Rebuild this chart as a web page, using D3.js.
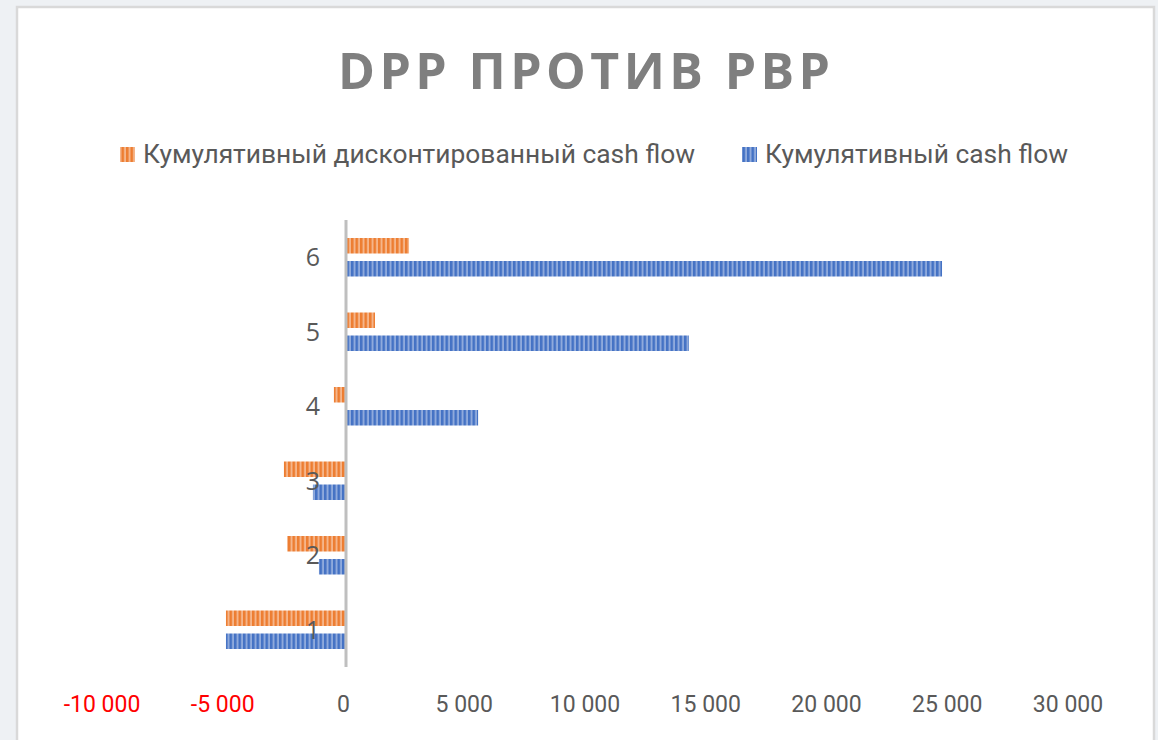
<!DOCTYPE html>
<html>
<head>
<meta charset="utf-8">
<script src="https://cdn.jsdelivr.net/npm/d3@7"></script>
<style>
  body { margin: 0; background: #eef1f4; }
  svg { display: block; }
</style>
</head>
<body>
<script>
// Data
var categories = ["1", "2", "3", "4", "5", "6"];
var seriesNames = ["Кумулятивный дисконтированный cash flow", "Кумулятивный cash flow"];
var discounted = [-4970, -2440, -2570, -500, 1200, 2610];
var cumulative = [-4970, -1120, -1370, 5470, 14200, 24680];
var xTicks = [-10000, -5000, 0, 5000, 10000, 15000, 20000, 25000, 30000];

var W = 1158, H = 740;
var colors = { dark: ["#ed7d31", "#4472c4"], light: ["#f5b58a", "#8faadc"] };

var svg = d3.select("body").append("svg")
    .attr("width", W)
    .attr("height", H);

// outer background and white chart panel
svg.append("rect").attr("width", W).attr("height", H).attr("fill", "#eef1f4");
svg.append("rect")
    .attr("x", 17).attr("y", 7)
    .attr("width", 1137).attr("height", 740)
    .attr("fill", "#fff")
    .attr("stroke", "#d9d9d9")
    .attr("stroke-width", 2.5);

// striped fill patterns (one per series)
var defs = svg.append("defs");
[0, 1].forEach(function (i) {
    var p = defs.append("pattern")
        .attr("id", "stripe" + i)
        .attr("patternUnits", "userSpaceOnUse")
        .attr("width", 4.5).attr("height", 10);
    p.append("rect").attr("width", 4.5).attr("height", 10).attr("fill", colors.light[i]);
    p.append("rect").attr("width", 2.5).attr("height", 10).attr("fill", colors.dark[i]);
});

// scales
var xScale = d3.scaleLinear().domain([-10000, 30000]).range([104.5, 1070.5]);
var yScale = d3.scaleBand().domain(categories.slice().reverse()).range([220, 667]).padding(0);
var inner = d3.scaleBand().domain([0, 1]).range([0, 38.5]).paddingInner(0.326);

var rows = categories.map(function (c, i) {
    return { cat: c, values: [discounted[i], cumulative[i]] };
});

// title
svg.append("text")
    .attr("x", 584).attr("y", 89)
    .attr("text-anchor", "middle")
    .attr("font-family", "'Open Sans', 'Noto Sans', sans-serif")
    .attr("font-weight", "bold")
    .attr("font-size", 50)
    .attr("fill", "#7f7f7f")
    .attr("textLength", 492)
    .attr("lengthAdjust", "spacing")
    .text("DPP ПРОТИВ PBP");

// legend
var legendX = [120, 742], legendW = [552, 303];
seriesNames.forEach(function (name, i) {
    svg.append("rect")
        .attr("x", legendX[i]).attr("y", 147)
        .attr("width", 15).attr("height", 15)
        .attr("fill", "url(#stripe" + i + ")");
    svg.append("text")
        .attr("x", legendX[i] + 23).attr("y", 163)
        .attr("font-family", "'Liberation Sans Narrow', 'Roboto', sans-serif")
        .attr("font-size", 25)
        .attr("fill", "#595959")
        .attr("textLength", legendW[i])
        .attr("lengthAdjust", "spacingAndGlyphs")
        .text(name);
});

// bars
var groups = svg.selectAll(".cat")
    .data(rows)
    .enter()
    .append("g")
    .attr("class", "cat")
    .attr("transform", function (d) {
        return "translate(0," + (yScale(d.cat) + yScale.bandwidth() / 2 - 19.25) + ")";
    });

groups.selectAll("rect")
    .data(function (d) { return d.values; })
    .enter()
    .append("rect")
    .attr("x", function (v) { return xScale(Math.min(0, v)); })
    .attr("y", function (v, i) { return inner(i); })
    .attr("width", function (v) { return Math.abs(xScale(v) - xScale(0)); })
    .attr("height", inner.bandwidth())
    .attr("fill", function (v, i) { return "url(#stripe" + i + ")"; });

// vertical axis line at zero
svg.append("line")
    .attr("x1", xScale(0)).attr("x2", xScale(0))
    .attr("y1", 220).attr("y2", 667)
    .attr("stroke", "#bfbfbf")
    .attr("stroke-width", 3);

// category labels
svg.selectAll(".catLabel")
    .data(categories)
    .enter()
    .append("text")
    .attr("class", "catLabel")
    .attr("x", 320)
    .attr("y", function (d) { return yScale(d) + yScale.bandwidth() / 2; })
    .attr("dy", "0.35em")
    .attr("text-anchor", "end")
    .attr("font-family", "'Open Sans', 'Noto Sans', sans-serif")
    .attr("font-size", 25)
    .attr("fill", "#595959")
    .text(function (d) { return d; });

// x axis tick labels (no axis line), hyphen minus and space thousands
var fmt = function (d) { return d3.format(",")(d).replace(/,/g, " ").replace("\u2212", "-"); };
var xAxis = d3.axisBottom(xScale).tickValues(xTicks).tickSize(0).tickPadding(0).tickFormat(fmt);
var gx = svg.append("g")
    .attr("transform", "translate(-3,696)")
    .call(xAxis);
gx.select(".domain").remove();
gx.selectAll("text")
    .attr("font-family", "'Liberation Sans Narrow', 'Roboto', sans-serif")
    .attr("font-size", 23)
    .attr("fill", function (d) { return d < 0 ? "#ff0000" : "#595959"; });
</script>
</body>
</html>
